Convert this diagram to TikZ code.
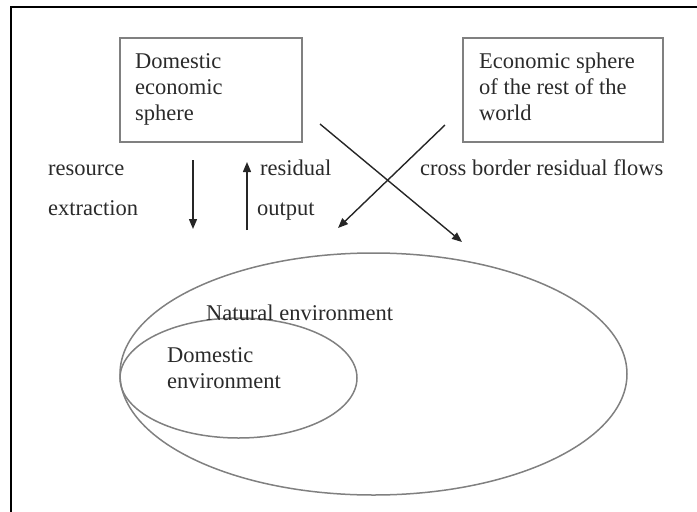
\documentclass[tikz,border=0pt]{standalone}
\usepackage{fontspec}
\setmainfont{Liberation Serif}
\usetikzlibrary{arrows.meta,shapes.geometric}
\definecolor{boxgray}{HTML}{808080}
\definecolor{txt}{HTML}{2A2A2A}
\tikzset{
  sphere/.style={draw=boxgray, line width=1.8pt, inner sep=0pt},
  envring/.style={ellipse, draw=boxgray, line width=1.5pt, inner sep=0pt},
  lbl/.style={inner sep=0pt, text=txt, align=left, anchor=north west},
  word/.style={inner sep=0pt, text=txt, anchor=base west},
  flow/.style={draw=black!85, line width=1.4pt, -{Triangle[length=10pt,width=8pt]}},
  frameline/.style={draw=black, line width=2pt}
}
\begin{document}
\begin{tikzpicture}[x=1pt,y=-1pt, font=\fontsize{22.5}{26}\selectfont]
\useasboundingbox (0,0) rectangle (697,512);
% frame
\coordinate (fA) at (697,6.5);
\coordinate (fB) at (11,6.5);
\coordinate (fC) at (11,512);
\draw[frameline] (fA) -- (fB) -- (fC);
% boxes
\node[sphere, minimum width=182pt, minimum height=104pt] (dom) at (211,90) {};
\node[lbl] (domt) at (135,53) {Domestic\\economic\\sphere};
\node[sphere, minimum width=200pt, minimum height=104pt] (row) at (563,90) {};
\node[lbl] (rowt) at (479,53) {Economic sphere\\of the rest of the\\world};
% labels
\node[word] (res) at (48,175) {resource};
\node[word] (ext) at (48,215) {extraction};
\node[word] (rsd) at (260,175) {residual};
\node[word] (out) at (257,215) {output};
\node[word] (cb) at (420,175) {cross border residual flows};
% ellipses
\node[envring, minimum width=507pt, minimum height=242pt] (nat) at (373.5,374) {};
\node[envring, minimum width=237pt, minimum height=120pt] (dome) at (238.5,378) {};
\node[word] (natt) at (206,320) {Natural environment};
\node[lbl] (domet) at (167,347) {Domestic\\environment};
% arrows
\coordinate (a1s) at (193,160);
\coordinate (a1e) at (193,229);
\coordinate (a2s) at (247,230);
\coordinate (a2e) at (247,162);
\coordinate (c1s) at (320,124);
\coordinate (c1e) at (462,242);
\coordinate (c2s) at (445,125);
\coordinate (c2e) at (338,228);
\draw[flow] (a1s) -- (a1e);
\draw[flow] (a2s) -- (a2e);
\draw[flow] (c1s) -- (c1e);
\draw[flow] (c2s) -- (c2e);
\end{tikzpicture}
\end{document}
